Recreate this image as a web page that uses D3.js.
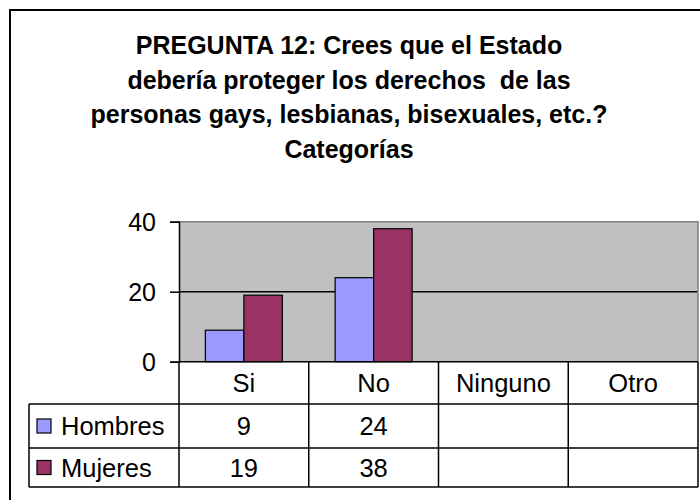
<!DOCTYPE html>
<html>
<head>
<meta charset="utf-8">
<script src="https://cdn.jsdelivr.net/npm/d3@7"></script>
<style>
  html, body { margin: 0; padding: 0; background: #fff; }
  svg { display: block; }
  text { font-family: "Liberation Sans", Arial, sans-serif; fill: #000; }
</style>
</head>
<body>
<svg id="chart" width="700" height="500"></svg>
<script>
// Chart data
const titleLines = [
  "PREGUNTA 12: Crees que el Estado",
  "debería proteger los derechos  de las",
  "personas gays, lesbianas, bisexuales, etc.?",
  "Categorías"
];
const categories = ["Si", "No", "Ninguno", "Otro"];
const seriesNames = ["Hombres", "Mujeres"];
const hombres = [9, 24, null, null];
const mujeres = [19, 38, null, null];
const seriesColors = ["#9999FF", "#993366"];
const yTicks = [0, 20, 40];

const seriesValues = [hombres, mujeres];

const svg = d3.select("#chart");
const W = 700, H = 500;

// Layout
const plot = { left: 179, right: 698, top: 221.7, bottom: 361.7 };
const rowLines = [404, 448, 487];   // bottom edge of header / Hombres / Mujeres rows
const legendLeft = 29;
const fontSize = 25.5;

// Outer chart frame (runs off the right and bottom edges)
svg.append("rect")
  .attr("x", 10).attr("y", 10)
  .attr("width", W + 20).attr("height", H + 20)
  .attr("fill", "#fff").attr("stroke", "#000").attr("stroke-width", 2);

// Title
const title = svg.append("g");
titleLines.forEach((line, i) => {
  title.append("text")
    .attr("x", 349).attr("y", 54 + i * 34.7)
    .attr("text-anchor", "middle")
    .attr("font-size", 25)
    .attr("font-weight", "bold")
    .style("white-space", "pre")
    .text(line);
});

// Scales
const x = d3.scaleBand().domain(categories).range([plot.left, plot.right]).padding(0);
const xs = d3.scaleBand().domain(seriesNames).range([0, x.bandwidth()])
  .paddingInner(0).paddingOuter(0.685);
const y = d3.scaleLinear().domain([0, 40]).range([plot.bottom, plot.top]);

// Plot area
svg.append("rect")
  .attr("x", plot.left).attr("y", plot.top)
  .attr("width", plot.right - plot.left).attr("height", plot.bottom - plot.top)
  .attr("fill", "#C0C0C0");

// Gridlines
svg.append("g")
  .selectAll("line")
  .data(yTicks.filter(t => t > 0 && t < 40))
  .join("line")
  .attr("x1", plot.left).attr("x2", plot.right)
  .attr("y1", d => y(d)).attr("y2", d => y(d))
  .attr("stroke", "#000").attr("stroke-width", 1.5);

// Plot border (top and right)
svg.append("path")
  .attr("d", `M${plot.left},${plot.top}H${plot.right}V${plot.bottom}`)
  .attr("fill", "none").attr("stroke", "#808080").attr("stroke-width", 1.5);

// Bars
seriesNames.forEach((name, si) => {
  svg.append("g")
    .selectAll("rect")
    .data(categories.map((c, i) => ({ c, v: seriesValues[si][i] })).filter(d => d.v != null))
    .join("rect")
    .attr("x", d => x(d.c) + xs(name))
    .attr("y", d => y(d.v))
    .attr("width", xs.bandwidth())
    .attr("height", d => y(0) - y(d.v))
    .attr("fill", seriesColors[si])
    .attr("stroke", "#000").attr("stroke-width", 1.2);
});

// Y axis
const yAxis = d3.axisLeft(y).tickValues(yTicks).tickSize(9).tickPadding(14).tickFormat(d3.format("d"));
const ya = svg.append("g").attr("transform", `translate(${plot.left},0)`).call(yAxis);
ya.select(".domain").attr("stroke", "#000").attr("stroke-width", 1.5);
ya.selectAll(".tick line").attr("stroke", "#000").attr("stroke-width", 1.5);
ya.selectAll(".tick text")
  .attr("font-size", 25).attr("font-family", "'Liberation Sans', Arial, sans-serif")
  .attr("fill", "#000").attr("dy", "0.36em");

// Data table
const table = svg.append("g");
const lineStyle = sel => sel.attr("stroke", "#000").attr("stroke-width", 1.5);

// horizontal lines
table.append("line").attr("x1", plot.left).attr("x2", plot.right)
  .attr("y1", plot.bottom).attr("y2", plot.bottom).call(lineStyle);
rowLines.forEach(ry => {
  table.append("line").attr("x1", legendLeft).attr("x2", plot.right)
    .attr("y1", ry).attr("y2", ry).call(lineStyle);
});
// vertical lines
const colEdges = categories.map(c => x(c)).concat([plot.right]);
colEdges.forEach(cx => {
  table.append("line").attr("x1", cx).attr("x2", cx)
    .attr("y1", plot.bottom).attr("y2", rowLines[2]).call(lineStyle);
});
table.append("line").attr("x1", legendLeft).attr("x2", legendLeft)
  .attr("y1", rowLines[0]).attr("y2", rowLines[2]).call(lineStyle);

function cellText(tx, ty, str, anchor) {
  table.append("text")
    .attr("x", tx).attr("y", ty)
    .attr("text-anchor", anchor)
    .attr("font-size", fontSize)
    .text(str);
}

// header row
categories.forEach(c => cellText(x(c) + x.bandwidth() / 2, 392, c, "middle"));

// series rows
const rowTops = [rowLines[0], rowLines[1]];
seriesNames.forEach((name, si) => {
  const top = rowTops[si];
  const bottom = rowLines[si + 1];
  const mid = (top + bottom) / 2;
  table.append("rect")
    .attr("x", 37).attr("y", mid - 7)
    .attr("width", 14).attr("height", 14)
    .attr("fill", seriesColors[si]).attr("stroke", "#000").attr("stroke-width", 1.2);
  cellText(61, mid + 9, name, "start");
  categories.forEach((c, i) => {
    const v = seriesValues[si][i];
    if (v != null) cellText(x(c) + x.bandwidth() / 2, mid + 9, String(v), "middle");
  });
});
</script>
</body>
</html>
